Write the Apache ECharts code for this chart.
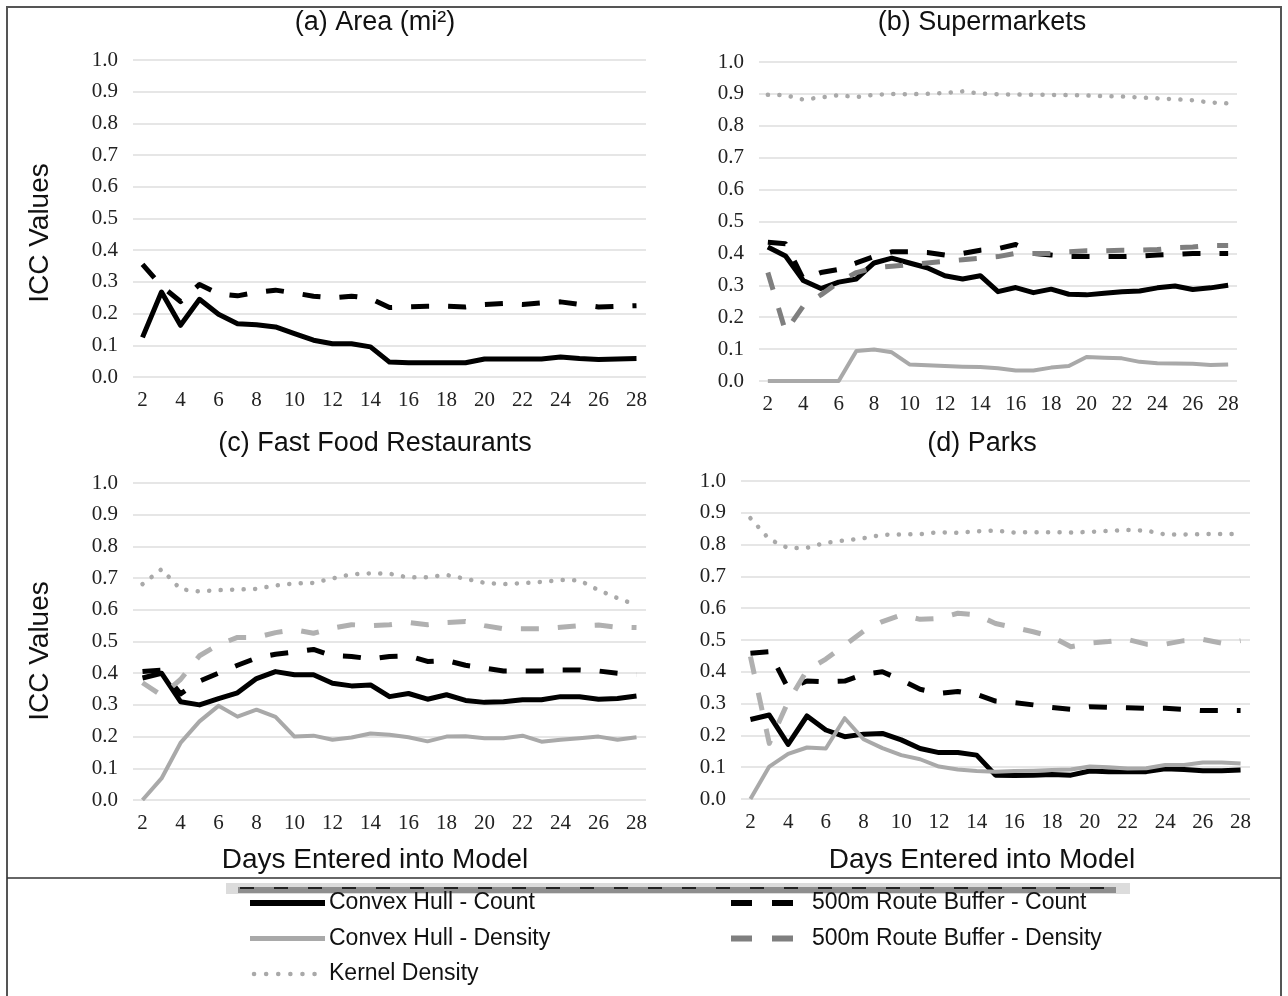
<!DOCTYPE html>
<html>
<head>
<meta charset="utf-8">
<script src="https://cdn.jsdelivr.net/npm/echarts@6/dist/echarts.min.js"></script>
<style>
html,body{margin:0;padding:0;background:#fff;}
#chart{width:1288px;height:996px;}
</style>
</head>
<body>
<div id="chart"></div>
<script>
// ---- data ----
const days = ['2','3','4','5','6','7','8','9','10','11','12','13','14','15','16','17','18','19','20','21','22','23','24','25','26','27','28'];
const yTicks = ['0.0','0.1','0.2','0.3','0.4','0.5','0.6','0.7','0.8','0.9','1.0'];

const panelTitles = ['(a) Area (mi²)', '(b) Supermarkets', '(c) Fast Food Restaurants', '(d) Parks'];
const seriesNames = ['Convex Hull - Count','Convex Hull - Density','500m Route Buffer - Count','500m Route Buffer - Density','Kernel Density'];

// (a) Area
const aHullCount = [0.125,0.268,0.163,0.245,0.198,0.168,0.165,0.158,0.137,0.116,0.105,0.105,0.095,0.047,0.045,0.045,0.045,0.045,0.057,0.057,0.057,0.057,0.063,0.058,0.055,0.057,0.058];
const aBufCount  = [0.355,0.287,0.238,0.292,0.263,0.256,0.267,0.274,0.265,0.255,0.250,0.255,0.248,0.219,0.221,0.223,0.223,0.221,0.229,0.232,0.229,0.234,0.237,0.229,0.221,0.223,0.225];

// (b) Supermarkets
const bHullCount = [0.420,0.392,0.315,0.290,0.310,0.320,0.370,0.385,0.370,0.355,0.330,0.320,0.330,0.280,0.293,0.277,0.288,0.272,0.270,0.275,0.280,0.282,0.292,0.298,0.287,0.292,0.300];
const bHullDens  = [0,0,0,0,0,0.094,0.099,0.090,0.052,0.049,0.047,0.045,0.044,0.040,0.033,0.033,0.042,0.047,0.075,0.073,0.071,0.060,0.056,0.055,0.054,0.050,0.052];
const bBufCount  = [0.435,0.430,0.320,0.340,0.350,0.370,0.390,0.405,0.405,0.403,0.395,0.400,0.410,0.415,0.428,0.400,0.395,0.390,0.390,0.390,0.390,0.392,0.395,0.397,0.400,0.400,0.400];
const bBufDens   = [0.340,0.155,0.235,0.270,0.310,0.340,0.355,0.360,0.365,0.370,0.375,0.380,0.385,0.390,0.400,0.400,0.400,0.405,0.408,0.408,0.410,0.410,0.412,0.418,0.420,0.425,0.425];
const bKernel    = [0.897,0.896,0.882,0.889,0.896,0.890,0.897,0.900,0.899,0.900,0.903,0.908,0.901,0.899,0.898,0.897,0.897,0.896,0.895,0.893,0.892,0.889,0.886,0.883,0.880,0.873,0.870];

// (c) Fast Food Restaurants
const cHullCount = [0.385,0.400,0.310,0.300,0.320,0.338,0.383,0.405,0.395,0.395,0.368,0.360,0.363,0.326,0.336,0.318,0.332,0.314,0.308,0.310,0.316,0.316,0.326,0.326,0.318,0.320,0.328];
const cHullDens  = [0,0.068,0.180,0.248,0.297,0.263,0.285,0.262,0.200,0.203,0.190,0.197,0.210,0.206,0.198,0.185,0.200,0.201,0.195,0.195,0.203,0.184,0.190,0.195,0.200,0.190,0.198];
const cBufCount  = [0.405,0.410,0.335,0.375,0.400,0.425,0.448,0.460,0.467,0.475,0.455,0.453,0.445,0.453,0.455,0.437,0.440,0.425,0.416,0.407,0.407,0.407,0.410,0.410,0.407,0.400,0.395];
const cBufDens   = [0.370,0.330,0.380,0.455,0.490,0.513,0.513,0.528,0.537,0.526,0.542,0.553,0.550,0.553,0.560,0.553,0.560,0.563,0.550,0.540,0.540,0.540,0.545,0.550,0.552,0.545,0.544];
const cKernel    = [0.681,0.728,0.665,0.658,0.662,0.664,0.666,0.677,0.683,0.685,0.699,0.712,0.715,0.714,0.702,0.703,0.710,0.698,0.685,0.681,0.684,0.688,0.694,0.693,0.662,0.637,0.615];

// (d) Parks
const dHullCount = [0.250,0.264,0.172,0.261,0.217,0.196,0.204,0.206,0.186,0.159,0.146,0.146,0.138,0.075,0.074,0.075,0.077,0.075,0.088,0.086,0.086,0.086,0.095,0.093,0.089,0.089,0.091];
const dHullDens  = [0,0.102,0.142,0.162,0.159,0.254,0.188,0.160,0.138,0.125,0.102,0.093,0.088,0.086,0.088,0.089,0.091,0.093,0.102,0.100,0.096,0.097,0.107,0.107,0.115,0.115,0.112];
const dBufCount  = [0.458,0.463,0.348,0.371,0.369,0.371,0.392,0.400,0.374,0.345,0.332,0.338,0.329,0.308,0.303,0.296,0.288,0.282,0.290,0.288,0.287,0.285,0.285,0.282,0.278,0.278,0.278];
const dBufDens   = [0.448,0.175,0.306,0.405,0.440,0.484,0.528,0.558,0.579,0.565,0.568,0.584,0.579,0.552,0.539,0.526,0.510,0.479,0.490,0.495,0.502,0.487,0.487,0.498,0.502,0.490,0.498];
const dKernel    = [0.883,0.817,0.789,0.790,0.806,0.813,0.820,0.831,0.832,0.833,0.839,0.837,0.842,0.844,0.838,0.839,0.839,0.838,0.840,0.843,0.846,0.844,0.832,0.832,0.833,0.833,0.834];

// ---- styles ----
const SANS = "'Liberation Sans', Arial, sans-serif";
const SERIF = "'Liberation Serif', 'Times New Roman', serif";
const styles = {
  hullCount: {color:'#000000', width:5, type:'solid'},
  hullDens:  {color:'#a9a9a9', width:4, type:'solid'},
  bufCount:  {color:'#000000', width:5, type:[18,19]},
  bufDensDark: {color:'#7f7f7f', width:5, type:[18,19]},
  bufDensLight:{color:'#b0b0b0', width:5, type:[18,19]},
  kernel:    {color:'#a9a9a9', width:4.5, type:[0.1,11.4]}
};

const grids = [
  {left:133, top:60, width:513, height:317},
  {left:759, top:62, width:478, height:319},
  {left:133, top:483, width:513, height:317},
  {left:741, top:481, width:509, height:318}
];

const xAxes = grids.map((g,i)=>({
  type:'category', gridIndex:i, data:days, boundaryGap:true,
  axisLine:{show:false}, axisTick:{show:false},
  axisLabel:{interval:1, margin:13, fontFamily:SERIF, fontSize:21, color:'#222', hideOverlap:false}
}));
const yAxes = grids.map((g,i)=>({
  type:'value', gridIndex:i, min:0, max:1, interval:0.1,
  axisLine:{show:false}, axisTick:{show:false},
  splitLine:{lineStyle:{color:'#dedede', width:1.5}},
  axisLabel:{margin:15, fontFamily:SERIF, fontSize:21, color:'#222',
    formatter:(v)=>yTicks[Math.round(v*10)]}
}));

function mk(name, data, idx, st){
  return {
    name:name, type:'line', xAxisIndex:idx, yAxisIndex:idx, data:data,
    showSymbol:false, symbol:'none', smooth:false, animation:false,
    itemStyle:{color:st.color},
    lineStyle:{color:st.color, width:st.width, type:st.type, cap:(Array.isArray(st.type)&&st.type[0]<1)?'round':'butt', join:'round'},
    emphasis:{disabled:true}
  };
}

const series = [
  mk(seriesNames[0], aHullCount, 0, styles.hullCount),
  mk(seriesNames[2], aBufCount, 0, styles.bufCount),

  mk(seriesNames[0], bHullCount, 1, styles.hullCount),
  mk(seriesNames[1], bHullDens, 1, styles.hullDens),
  mk(seriesNames[2], bBufCount, 1, styles.bufCount),
  mk(seriesNames[3], bBufDens, 1, styles.bufDensDark),
  mk(seriesNames[4], bKernel, 1, styles.kernel),

  mk(seriesNames[0], cHullCount, 2, styles.hullCount),
  mk(seriesNames[1], cHullDens, 2, styles.hullDens),
  mk(seriesNames[2], cBufCount, 2, styles.bufCount),
  mk(seriesNames[3], cBufDens, 2, styles.bufDensLight),
  mk(seriesNames[4], cKernel, 2, styles.kernel),

  mk(seriesNames[0], dHullCount, 3, styles.hullCount),
  mk(seriesNames[1], dHullDens, 3, styles.hullDens),
  mk(seriesNames[2], dBufCount, 3, styles.bufCount),
  mk(seriesNames[3], dBufDens, 3, styles.bufDensLight),
  mk(seriesNames[4], dKernel, 3, styles.kernel)
];

function txt(t, x, y, size, rot, align){
  return {type:'text', x:x, y:y, rotation:rot||0, z:10,
    style:{text:t, fill:'#111', font:size+'px '+SANS, textAlign:align||'center', textVerticalAlign:'middle'}};
}
function swatch(x1, x2, y, st, cap){
  const s = {stroke:st.color, lineWidth:st.width+1, lineCap:cap||'butt'};
  if (Array.isArray(st.type)) s.lineDash = st.type;
  return {type:'line', shape:{x1:x1,y1:y,x2:x2,y2:y}, style:s, z:10};
}

// legend rows (graphic legend, two columns)
const legendRows = [
  {name:seriesNames[0], st:styles.hullCount, col:0, row:0},
  {name:seriesNames[1], st:styles.hullDens, col:0, row:1},
  {name:seriesNames[4], st:styles.kernel, col:0, row:2},
  {name:seriesNames[2], st:styles.bufCount, col:1, row:0},
  {name:seriesNames[3], st:styles.bufDensDark, col:1, row:1}
];
const legendGraphics = [];
legendRows.forEach(r=>{
  const y = 903 + r.row*35.5;
  if (r.col===0){
    const isK = (r.st===styles.kernel);
    const st = isK?{color:r.st.color,width:3.5,type:[0.1,12]}:r.st;
    legendGraphics.push(swatch(isK?254:250, isK?316:325, y, st, isK?'round':'butt'));
    legendGraphics.push(txt(r.name, 329, y, 23, 0, 'left'));
  } else {
    legendGraphics.push(swatch(731, 795, y, {color:r.st.color,width:r.st.width,type:[21,20]}, 'butt'));
    legendGraphics.push(txt(r.name, 812, y, 23, 0, 'left'));
  }
});

const option = {
  backgroundColor:'#ffffff',
  animation:false,
  grid:grids,
  xAxis:xAxes,
  yAxis:yAxes,
  series:series,
  graphic:[
    {type:'rect', shape:{x:7,y:7,width:1274,height:1010}, style:{fill:'none', stroke:'#555', lineWidth:2}, z:20},
    {type:'line', shape:{x1:7,y1:878,x2:1281,y2:878}, style:{stroke:'#333', lineWidth:1.5}, z:20},
    {type:'rect', shape:{x:226,y:883,width:904,height:11}, style:{fill:'#dcdcdc'}, z:1},
    {type:'rect', shape:{x:238,y:887,width:878,height:6}, style:{fill:'#8e8e8e'}, z:2},
    {type:'line', shape:{x1:240,y1:888,x2:1112,y2:888}, style:{stroke:'#222', lineWidth:2, lineDash:[14,20]}, z:3},
    txt(panelTitles[0], 375, 23, 27),
    txt(panelTitles[1], 982, 23, 27),
    txt(panelTitles[2], 375, 444, 27),
    txt(panelTitles[3], 982, 444, 27),
    txt('ICC Values', 40, 233, 28, Math.PI/2),
    txt('ICC Values', 40, 651, 28, Math.PI/2),
    txt('Days Entered into Model', 375, 860, 28),
    txt('Days Entered into Model', 982, 860, 28)
  ].concat(legendGraphics)
};

const chart = echarts.init(document.getElementById('chart'), null, {renderer:'canvas'});
chart.setOption(option);
</script>
</body>
</html>
